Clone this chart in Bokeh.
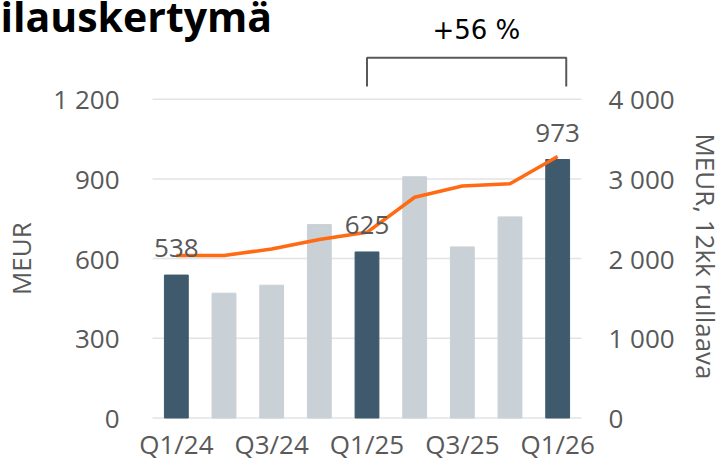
import math
from bokeh.plotting import figure
from bokeh.models import Range1d, LinearAxis, FixedTicker, ColumnDataSource
from bokeh.core.properties import value
from bokeh.embed import file_html
from bokeh.resources import INLINE

# ---- data ----
quarters = ["Q1/24", "Q2/24", "Q3/24", "Q4/24", "Q1/25", "Q2/25", "Q3/25", "Q4/25", "Q1/26"]
orders = [538, 470, 500, 728, 625, 908, 644, 757, 973]
rolling_12m = [2040, 2040, 2120, 2240, 2330, 2770, 2910, 2940, 3280]
highlight = [True, False, False, False, True, False, False, False, True]
shown_quarter_labels = ["Q1/24", "Q3/24", "Q1/25", "Q3/25", "Q1/26"]
left_ticks = [0, 300, 600, 900, 1200]
right_ticks = [0, 1000, 2000, 3000, 4000]
title_text = "ilauskertymä"
growth_text = "+56 %"
left_label = "MEUR"
right_label = "MEUR, 12kk rullaava"

DARK = "#3F5A6C"
LIGHT = "#C9D0D6"
ORANGE = "#FF6A13"
GREY = "#595959"
GRID = "#E3E3E3"
FONT = "Open Sans"

n = len(quarters)
xpos = list(range(n))            # category slots
Y_MAX = left_ticks[-1]
R_MAX = right_ticks[-1]

# frame fills the whole canvas; the chart area is x in [-0.5, n-0.5], y in [0, Y_MAX]
X0, X1 = -3.689, n - 0.5 + 2.979
Y0, Y1 = -163.7, 1571.5
p = figure(x_range=Range1d(X0, X1), y_range=Range1d(Y0, Y1),
           width=723, height=461, output_backend="svg", toolbar_location=None,
           min_border_left=0, min_border_right=0, min_border_top=0, min_border_bottom=0)
p.outline_line_color = None
p.grid.visible = False
p.extra_y_ranges = {"right": Range1d(Y0 * R_MAX / Y_MAX, Y1 * R_MAX / Y_MAX)}

# horizontal grid lines over the chart area only
p.segment(x0=[-0.5] * len(left_ticks), x1=[n - 0.5] * len(left_ticks),
          y0=left_ticks, y1=left_ticks, line_color=GRID, line_width=1.5)

bars = ColumnDataSource(dict(x=xpos, v=orders, r=rolling_12m,
                             c=[DARK if h else LIGHT for h in highlight]))
p.vbar(x="x", top="v", width=0.5, color="c", source=bars)
p.line(x="x", y="r", y_range_name="right", line_color=ORANGE, line_width=3.5,
       source=bars)

hl_x = [x for x, h in zip(xpos, highlight) if h]
hl_v = [v for v, h in zip(orders, highlight) if h]
lbl = ColumnDataSource(dict(x=hl_x, v=hl_v, t=[str(v) for v in hl_v]))
p.text(x="x", y="v", text="t", source=lbl, text_align="center",
       text_baseline="alphabetic", y_offset=-27,
       text_font=value(FONT), text_font_size="26px", text_color=GREY)


def style(ax):
    ax.axis_line_color = None
    ax.major_tick_line_color = None
    ax.minor_tick_line_color = None
    ax.major_tick_out = 0
    ax.major_tick_in = 0
    ax.major_label_text_font = FONT
    ax.major_label_text_font_size = "26px"
    ax.major_label_text_color = GREY


def fmt(t):
    return f"{t:,}".replace(",", " ")


# left axis
lax = p.yaxis[0]
style(lax)
lax.fixed_location = -0.5
lax.ticker = FixedTicker(ticks=left_ticks)
lax.major_label_overrides = {t: fmt(t) for t in left_ticks}
lax.major_label_standoff = 33

# right axis
rax = LinearAxis(y_range_name="right", ticker=FixedTicker(ticks=right_ticks),
                 fixed_location=n - 0.5)
style(rax)
rax.major_label_overrides = {t: fmt(t) for t in right_ticks}
rax.major_label_standoff = 27
p.add_layout(rax, "right")

# bottom axis
bax = p.xaxis[0]
style(bax)
bax.fixed_location = 0
shown_x = [x for x, q in zip(xpos, quarters) if q in shown_quarter_labels]
bax.ticker = FixedTicker(ticks=shown_x)
bax.major_label_overrides = {x: q for x, q in zip(xpos, quarters) if q in shown_quarter_labels}
bax.major_label_standoff = 8

# axis titles
p.text(x=[-3.259], y=[Y_MAX / 2], text=[left_label], angle=math.pi / 2,
       text_align="center", text_baseline="middle",
       text_font=value(FONT), text_font_size="26px", text_color=GREY)
p.text(x=[11.122], y=[608], text=[right_label], angle=-math.pi / 2,
       text_align="center", text_baseline="middle",
       text_font=value(FONT), text_font_size="26px", text_color=GREY)

# title (cut at the left edge, as in the reference)
p.text(x=[X0], y=[1514], text=[title_text], text_align="left",
       text_baseline="alphabetic", text_font=value(FONT), text_font_style="bold",
       text_font_size="41px", text_color="#000000")

# growth bracket Q1/25 -> Q1/26
i0 = quarters.index("Q1/25")
i1 = quarters.index("Q1/26")
p.line(x=[i0, i0, i1 + 0.18, i1 + 0.18], y=[1248, 1356, 1356, 1248],
       line_color=GREY, line_width=2)
p.text(x=[6.295], y=[1461], text=[growth_text], text_align="center",
       text_baseline="alphabetic", text_font=value("DejaVu Sans"),
       text_font_size="26px", text_color="#000000")

open("out.html", "w").write(file_html(p, INLINE))
